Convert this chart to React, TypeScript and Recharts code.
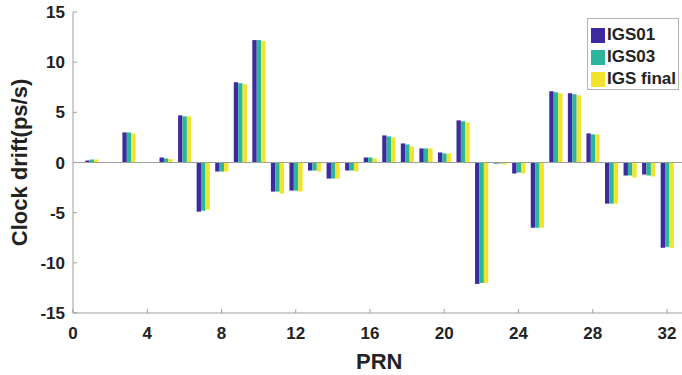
import {
  BarChart,
  Bar,
  XAxis,
  YAxis,
  Legend,
  ReferenceLine,
} from "recharts";

// PRN 1..32, clock drift in ps/s (null = no bar)
const prns = [
  1, 2, 3, 4, 5, 6, 7, 8, 9, 10, 11, 12, 13, 14, 15, 16,
  17, 18, 19, 20, 21, 22, 23, 24, 25, 26, 27, 28, 29, 30, 31, 32,
];
const igs01 = [
  0.2, null, 3.0, null, 0.5, 4.7, -4.9, -0.9, 8.0, 12.2, -2.9, -2.8, -0.8, -1.6, -0.8, 0.5,
  2.7, 1.9, 1.4, 1.0, 4.2, -12.1, -0.1, -1.1, -6.5, 7.1, 6.9, 2.9, -4.1, -1.3, -1.2, -8.5,
];
const igs03 = [
  0.3, null, 3.0, null, 0.4, 4.6, -4.8, -0.9, 7.9, 12.2, -2.9, -2.8, -0.8, -1.6, -0.8, 0.5,
  2.6, 1.8, 1.4, 0.9, 4.1, -12.0, -0.1, -1.0, -6.5, 7.0, 6.8, 2.8, -4.1, -1.3, -1.3, -8.4,
];
const igsFinal = [
  0.3, null, 2.9, null, 0.35, 4.6, -4.7, -0.9, 7.8, 12.1, -3.1, -2.9, -0.9, -1.6, -0.9, 0.4,
  2.5, 1.6, 1.4, 0.9, 4.0, -12.0, -0.2, -1.1, -6.5, 6.9, 6.7, 2.8, -4.1, -1.5, -1.4, -8.5,
];
const seriesNames = ["IGS01", "IGS03", "IGS final"];
const xTicks = [0, 4, 8, 12, 16, 20, 24, 28, 32];
const yTicks = [-15, -10, -5, 0, 5, 10, 15];

const COLORS = ["#3d2aa0", "#2bb59b", "#f0e52c"];
const AXIS = "#9e9e9e";
const TEXT = "#222222";
const FONT = "'Liberation Sans', Arial, sans-serif";

const data = prns.map((p, i) => ({
  prn: p,
  igs01: igs01[i],
  igs03: igs03[i],
  igsFinal: igsFinal[i],
}));

const tickStyle = { fontSize: 17, fontWeight: 700, fill: TEXT, fontFamily: FONT };
const labelStyle = { fontSize: 22, fontWeight: 700, fill: TEXT, fontFamily: FONT };

// legend kept in series order (recharts sorts its payload by name)
function LegendBox() {
  return (
    <div
      style={{
        background: "#fff",
        border: "1px solid #b4b4b4",
        padding: "5px 0 0 3px",
        boxSizing: "border-box",
        width: 92,
        height: 72,
        fontFamily: FONT,
      }}
    >
      {seriesNames.map((name, i) => (
        <div key={name} style={{ display: "flex", alignItems: "center", height: 22 }}>
          <span
            style={{
              display: "inline-block",
              width: 14,
              height: 15,
              background: COLORS[i],
              marginRight: 2,
            }}
          />
          <span style={{ fontSize: 17, fontWeight: 700, color: TEXT, lineHeight: "22px" }}>
            {name}
          </span>
        </div>
      ))}
    </div>
  );
}

export default function App() {
  return (
    <div style={{ width: 682, height: 375, overflow: "hidden", position: "relative", background: "#fff" }}>
      <style>{"body{margin:0}"}</style>
      <BarChart
        width={690}
        height={375}
        data={data}
        margin={{ top: 12, right: 4.5, bottom: 0, left: 0 }}
        barGap={0}
        barSize={4.4}
      >
        <XAxis
          dataKey="prn"
          type="number"
          domain={[0, 33]}
          ticks={xTicks}
          interval={0}
          height={62}
          tickSize={-4}
          tickMargin={18}
          tick={tickStyle}
          axisLine={{ stroke: AXIS }}
          tickLine={{ stroke: AXIS }}
          label={{ value: "PRN", position: "center", dy: 17, style: labelStyle }}
        />
        <XAxis
          xAxisId="top"
          orientation="top"
          dataKey="prn"
          type="number"
          domain={[0, 33]}
          ticks={xTicks}
          interval={0}
          height={0}
          tickSize={-4}
          tick={false}
          axisLine={{ stroke: AXIS }}
          tickLine={{ stroke: AXIS }}
        />
        <YAxis
          domain={[-15, 15]}
          ticks={yTicks}
          interval={0}
          width={73}
          tickSize={-4}
          tickMargin={12}
          tick={tickStyle}
          axisLine={{ stroke: AXIS }}
          tickLine={{ stroke: AXIS }}
          label={{
            value: "Clock drift(ps/s)",
            angle: -90,
            position: "center",
            dx: -17,
            style: labelStyle,
          }}
        />
        <YAxis
          yAxisId="right"
          orientation="right"
          domain={[-15, 15]}
          ticks={yTicks}
          interval={0}
          width={0}
          tickSize={-4}
          tick={false}
          axisLine={{ stroke: AXIS }}
          tickLine={{ stroke: AXIS }}
        />
        <ReferenceLine y={0} stroke={AXIS} />
        <Legend
          layout="horizontal"
          verticalAlign="middle"
          align="center"
          wrapperStyle={{ left: 587, top: 18, width: 92, height: 72 }}
          content={LegendBox}
        />
        <Bar dataKey="igs01" name={seriesNames[0]} fill={COLORS[0]} isAnimationActive={false} />
        <Bar dataKey="igs03" name={seriesNames[1]} fill={COLORS[1]} isAnimationActive={false} />
        <Bar dataKey="igsFinal" name={seriesNames[2]} fill={COLORS[2]} isAnimationActive={false} />
      </BarChart>
    </div>
  );
}
